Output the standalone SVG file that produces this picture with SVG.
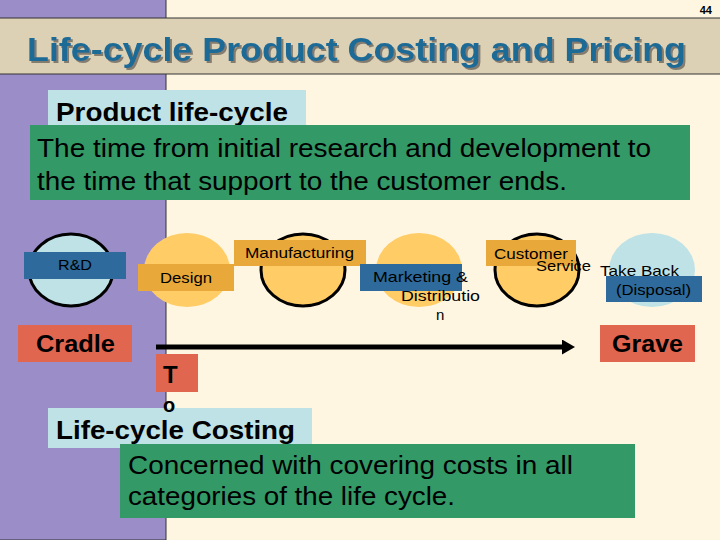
<svg xmlns="http://www.w3.org/2000/svg" width="720" height="540" viewBox="0 0 720 540">
<style>
text{font-family:"Liberation Sans",Arial,sans-serif;fill:#000}
.b{font-weight:bold}
.lbl{font-size:15px}
.big{font-size:26px}
.blue{fill:#2E6A9B}
.org{fill:#E8A83A}
.lb{fill:#BEE2E6}
.yel{fill:#FFCC66}
.red{fill:#E06650}
.grn{fill:#339966}
.ring{stroke:#000;stroke-width:3}
</style>
<defs>
<marker id="ah" markerWidth="14" markerHeight="16" refX="1" refY="7.5" orient="auto" markerUnits="userSpaceOnUse">
<path d="M0,0 L13,7.5 L0,15 z" fill="#000"/>
</marker>
<filter id="sh" x="-5%" y="-20%" width="110%" height="140%">
<feDropShadow dx="2" dy="2" stdDeviation="0.6" flood-color="#7a7366" flood-opacity="0.9"/>
</filter>
</defs>
<rect width="720" height="540" fill="#FFF6E2"/>
<rect x="-1" y="-1" width="167" height="541" fill="#9B8DC8" stroke="#333" stroke-width="1"/>
<g id="title">
<rect x="-1" y="18" width="722" height="56" fill="#DDD1B5" stroke="#333" stroke-width="1"/>
<text x="27" y="61" font-size="33" class="b" style="fill:#1F6A96" filter="url(#sh)" textLength="659" lengthAdjust="spacingAndGlyphs">Life-cycle Product Costing and Pricing</text>
<text x="712" y="14" font-size="11" class="b" text-anchor="end">44</text>
</g>
<g id="plc">
<rect x="48" y="90" width="258" height="38" class="lb"/>
<text x="56" y="121" class="big b" textLength="232" lengthAdjust="spacingAndGlyphs">Product life-cycle</text>
</g>
<g id="plc-def">
<rect x="30" y="125" width="660" height="75" class="grn"/>
<text x="37" y="157" class="big" textLength="614" lengthAdjust="spacingAndGlyphs">The time from initial research and development to</text>
<text x="37" y="190" class="big" textLength="530" lengthAdjust="spacingAndGlyphs">the time that support to the customer ends.</text>
</g>
<g id="rd">
<ellipse cx="71" cy="270" rx="42" ry="36" class="lb ring"/>
<rect x="24" y="252" width="102" height="27" class="blue"/>
<text x="58" y="270" font-size="14" textLength="34" lengthAdjust="spacingAndGlyphs">R&amp;D</text>
</g>
<g id="design">
<ellipse cx="187" cy="270" rx="43" ry="37" class="yel"/>
<rect x="138" y="264" width="96" height="27" class="org"/>
<text x="160" y="283" class="lbl" textLength="52" lengthAdjust="spacingAndGlyphs">Design</text>
</g>
<g id="manufacturing">
<ellipse cx="303" cy="270" rx="42" ry="36" class="yel ring"/>
<rect x="234" y="240" width="132" height="26" class="org"/>
<text x="245" y="258" class="lbl" textLength="109" lengthAdjust="spacingAndGlyphs">Manufacturing</text>
</g>
<g id="marketing">
<ellipse cx="419" cy="270" rx="43" ry="37" class="yel"/>
<rect x="360" y="264" width="102" height="27" class="blue"/>
<text x="373" y="282" font-size="15" textLength="95" lengthAdjust="spacingAndGlyphs">Marketing  &amp;</text>
<text x="401" y="301" font-size="15" textLength="79" lengthAdjust="spacingAndGlyphs">Distributio</text>
<text x="436" y="320" font-size="15">n</text>
</g>
<g id="service">
<ellipse cx="537" cy="270" rx="42" ry="36" class="yel ring"/>
<rect x="486" y="240" width="90" height="26" class="org"/>
<text x="494" y="259" class="lbl" textLength="74" lengthAdjust="spacingAndGlyphs">Customer</text>
<text x="536" y="271" font-size="15" textLength="55" lengthAdjust="spacingAndGlyphs">Service</text>
</g>
<g id="takeback">
<ellipse cx="652" cy="270" rx="43" ry="37" class="lb"/>
<rect x="606" y="276" width="96" height="26" class="blue"/>
<text x="600" y="276" font-size="15" textLength="79" lengthAdjust="spacingAndGlyphs">Take Back</text>
<text x="616" y="295" font-size="15" textLength="75" lengthAdjust="spacingAndGlyphs">(Disposal)</text>
</g>
<g id="cradle">
<rect x="18" y="325" width="114" height="37" class="red"/>
<text x="36" y="352" font-size="23" class="b" textLength="79" lengthAdjust="spacingAndGlyphs">Cradle</text>
</g>
<g id="grave">
<rect x="600" y="325" width="95" height="37" class="red"/>
<text x="612" y="352" font-size="23" class="b" textLength="71" lengthAdjust="spacingAndGlyphs">Grave</text>
</g>
<g id="connectors">
<line x1="156" y1="347" x2="563" y2="347" stroke="#000" stroke-width="5" marker-end="url(#ah)"/>
</g>
<g id="lcc">
<rect x="48" y="408" width="264" height="40" class="lb"/>
<text x="56" y="439" class="big b" textLength="239" lengthAdjust="spacingAndGlyphs">Life-cycle Costing</text>
</g>
<g id="to">
<rect x="156" y="354" width="42" height="38" class="red"/>
<text x="163" y="383" font-size="24" class="b">T</text>
<text x="163" y="412" font-size="20" class="b">o</text>
</g>
<g id="lcc-def">
<rect x="120" y="444" width="515" height="74" class="grn"/>
<text x="128" y="474" class="big" textLength="445" lengthAdjust="spacingAndGlyphs">Concerned with covering costs in all</text>
<text x="128" y="505" class="big" textLength="327" lengthAdjust="spacingAndGlyphs">categories of the life cycle.</text>
</g>
</svg>
